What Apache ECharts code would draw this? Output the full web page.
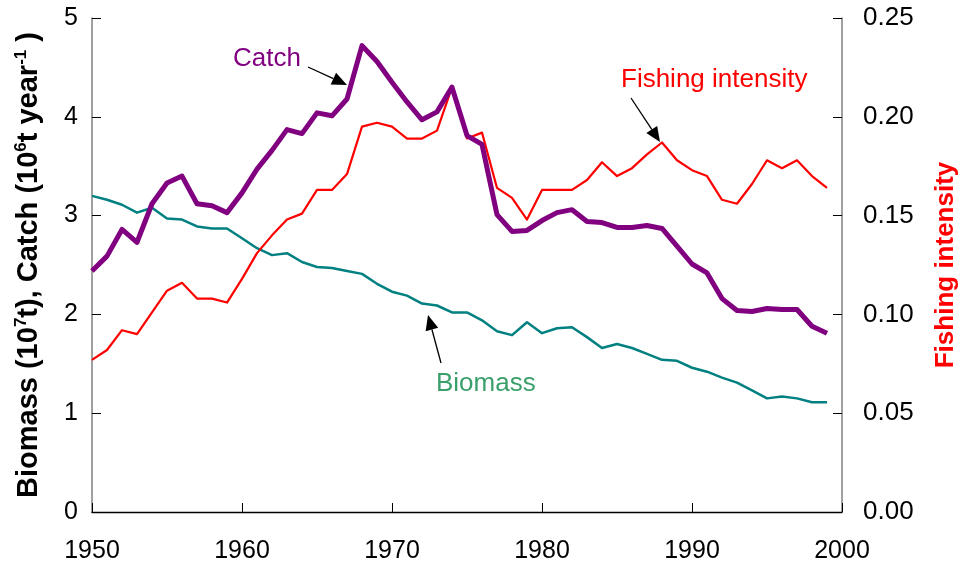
<!DOCTYPE html>
<html>
<head>
<meta charset="utf-8">
<script src="https://cdn.jsdelivr.net/npm/echarts@6/dist/echarts.min.js"></script>
<style>
html,body{margin:0;padding:0;background:#fff;}
#chart{width:964px;height:567px;}
</style>
</head>
<body>
<div id="chart"></div>
<script>
const years = [1950,1951,1952,1953,1954,1955,1956,1957,1958,1959,
               1960,1961,1962,1963,1964,1965,1966,1967,1968,1969,
               1970,1971,1972,1973,1974,1975,1976,1977,1978,1979,
               1980,1981,1982,1983,1984,1985,1986,1987,1988,1989,
               1990,1991,1992,1993,1994,1995,1996,1997,1998,1999];
const catchVals = [2.44,2.59,2.86,2.73,3.12,3.33,3.40,3.12,3.10,3.03,
                   3.23,3.47,3.66,3.87,3.83,4.04,4.01,4.18,4.72,4.56,
                   4.35,4.15,3.97,4.05,4.30,3.81,3.72,3.01,2.84,2.85,
                   2.95,3.03,3.06,2.94,2.93,2.88,2.88,2.90,2.87,2.69,
                   2.51,2.42,2.16,2.04,2.03,2.06,2.05,2.05,1.88,1.81];
const biomassVals = [3.20,3.16,3.11,3.03,3.08,2.97,2.96,2.89,2.87,2.87,
                     2.77,2.67,2.60,2.62,2.53,2.48,2.47,2.44,2.41,2.31,
                     2.23,2.19,2.11,2.09,2.02,2.02,1.94,1.83,1.79,1.92,
                     1.81,1.86,1.87,1.77,1.66,1.70,1.66,1.60,1.54,1.53,
                     1.46,1.42,1.36,1.31,1.23,1.15,1.17,1.15,1.11,1.11];
const fishingVals = [0.077,0.082,0.092,0.090,0.101,0.112,0.116,0.108,0.108,0.106,
                     0.118,0.131,0.140,0.148,0.151,0.163,0.163,0.171,0.195,0.197,
                     0.195,0.189,0.189,0.193,0.215,0.189,0.192,0.164,0.159,0.148,
                     0.163,0.163,0.163,0.168,0.177,0.170,0.174,0.181,0.187,0.178,
                     0.173,0.170,0.158,0.156,0.166,0.178,0.174,0.178,0.170,0.164];

const FONT = "'Liberation Sans', Arial, sans-serif";
const pairs = (vals) => years.map((y, i) => [y, vals[i]]);

function arrow(x1, y1, x2, y2) {
  const dx = x2 - x1, dy = y2 - y1, L = Math.hypot(dx, dy);
  const ux = dx / L, uy = dy / L, hl = 15, hw = 6.5;
  const bx = x2 - ux * hl, by = y2 - uy * hl;
  return [
    { type: 'line', shape: { x1: x1, y1: y1, x2: bx, y2: by }, style: { stroke: '#000', lineWidth: 1.3 }, z: 100 },
    { type: 'polygon', shape: { points: [[x2, y2], [bx - uy * hw, by + ux * hw], [bx + uy * hw, by - ux * hw]] }, style: { fill: '#000' }, z: 100 }
  ];
}

const chart = echarts.init(document.getElementById('chart'), null, { renderer: 'canvas' });
chart.setOption({
  animation: false,
  backgroundColor: '#fff',
  grid: { left: 92, right: 122, top: 18, bottom: 55, containLabel: false, outerBoundsMode: 'none' },
  xAxis: {
    type: 'value', min: 1950, max: 2000, interval: 10,
    axisLine: { lineStyle: { color: '#000', width: 1.3 } },
    axisTick: { inside: true, length: 9, lineStyle: { color: '#000', width: 1 } },
    axisLabel: { fontSize: 25, color: '#000', fontFamily: FONT, margin: 27, formatter: (v) => String(v) },
    splitLine: { show: false }
  },
  yAxis: [
    {
      type: 'value', min: 0, max: 5, interval: 1, position: 'left',
      axisLine: { show: true, lineStyle: { color: '#808080', width: 1.5 } },
      axisTick: { show: true, inside: true, length: 9, lineStyle: { color: '#000', width: 1 } },
      axisLabel: { fontSize: 25, color: '#000', fontFamily: FONT, margin: 14 },
      splitLine: { show: false },
      name: 'Biomass (10{sup|7}t), Catch (10{sup|6}t year{sup|-1} )',
      nameLocation: 'middle', nameRotate: 90, nameGap: 48,
      nameTextStyle: {
        fontSize: 29, fontWeight: 'bold', color: '#000', fontFamily: FONT, lineHeight: 31,
        rich: { sup: { fontSize: 17, fontWeight: 'bold', color: '#000', fontFamily: FONT, verticalAlign: 'top', lineHeight: 18 } }
      }
    },
    {
      type: 'value', min: 0, max: 0.25, interval: 0.05, position: 'right',
      axisLine: { show: true, lineStyle: { color: '#808080', width: 1.5 } },
      axisTick: { show: true, inside: true, length: 9, lineStyle: { color: '#000', width: 1 } },
      axisLabel: { fontSize: 26, color: '#000', fontFamily: FONT, margin: 21, formatter: (v) => v.toFixed(2) },
      splitLine: { show: false },
      name: 'Fishing intensity',
      nameLocation: 'middle', nameRotate: 90, nameGap: 91,
      nameTextStyle: { fontSize: 26, fontWeight: 'bold', color: '#ff0000', fontFamily: FONT }
    }
  ],
  series: [
    { name: 'Biomass', type: 'line', yAxisIndex: 0, data: pairs(biomassVals), showSymbol: false,
      lineStyle: { color: '#008080', width: 2.5, join: 'round' }, z: 2 },
    { name: 'Fishing intensity', type: 'line', yAxisIndex: 1, data: pairs(fishingVals), showSymbol: false,
      lineStyle: { color: '#ff0000', width: 2.2, join: 'round' }, z: 3 },
    { name: 'Catch', type: 'line', yAxisIndex: 0, data: pairs(catchVals), showSymbol: false,
      lineStyle: { color: '#800080', width: 5, join: 'round' }, z: 4 }
  ],
  graphic: [
    { type: 'text', left: 233, top: 46, style: { text: 'Catch', fontSize: 26, fill: '#800080', fontFamily: FONT }, z: 100 },
    { type: 'text', left: 621, top: 67, style: { text: 'Fishing intensity', fontSize: 26, fill: '#ff0000', fontFamily: FONT }, z: 100 },
    { type: 'text', left: 436, top: 371, style: { text: 'Biomass', fontSize: 26, fill: '#3a9f6b', fontFamily: FONT }, z: 100 }
  ].concat(arrow(308, 67, 347, 85), arrow(631, 98, 660, 142), arrow(441, 363, 428, 315))
});
</script>
</body>
</html>
